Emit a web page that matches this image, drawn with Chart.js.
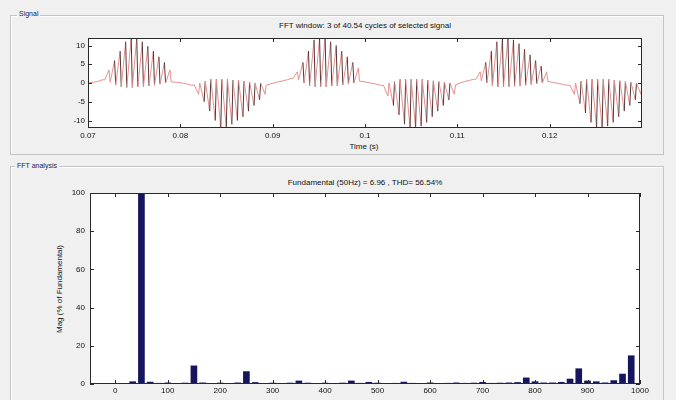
<!DOCTYPE html>
<html>
<head>
<meta charset="utf-8">
<script src="https://cdn.jsdelivr.net/npm/chart.js@4.4.1/dist/chart.umd.min.js"></script>
<style>
  body { margin: 0; background: #f0f0f0; font-family: "Liberation Sans", Arial, sans-serif; }
  #fig { position: relative; width: 676px; height: 400px; overflow: hidden; background: #f0f0f0; }
  .panel { position: absolute; border: 1px solid #c4c4c4; box-shadow: inset 1px 1px 0 #fff; }
  .panel-title { position: absolute; font-size: 7px; line-height: 8px; color: #1a2050; background: #f0f0f0; padding: 0 2px; }
  .txt { position: absolute; font-size: 8px; line-height: 10px; color: #111; white-space: nowrap; transform: translateX(-50%); }
  .ylab { position: absolute; font-size: 8px; line-height: 10px; color: #111; white-space: nowrap; transform: translate(-50%, -50%) rotate(-90deg); }
  canvas { position: absolute; left: 0; }
</style>
</head>
<body>
<div id="fig">
  <div class="panel" style="left:10px; top:15px; width:652px; height:138px;"></div>
  <div class="panel-title" style="left:17px; top:10px;">Signal</div>
  <div class="panel" style="left:10px; top:166px; width:652px; height:240px;"></div>
  <div class="panel-title" style="left:15px; top:162px;">FFT analysis</div>

  <div class="txt" style="left:365px; top:21px;">FFT window: 3 of 40.54 cycles of selected signal</div>
  <div class="txt" style="left:364px; top:142px;">Time (s)</div>
  <div class="txt" style="left:365px; top:178px;">Fundamental (50Hz) = 6.96 , THD= 56.54%</div>
  <div class="ylab" style="left:60px; top:289px;">Mag (% of Fundamental)</div>

  <canvas id="signalChart" width="676" height="160" style="top:0;"></canvas>
  <canvas id="fftChart" width="676" height="240" style="top:160px;"></canvas>
</div>

<script>
// Signal window (s) and amplitude
const signalTime = [
  0.0700, 0.0706, 0.0712, 0.0716,
  0.0718, 0.07228, 0.0724, 0.07288, 0.0730, 0.07348, 0.0736, 0.07408, 0.0742, 0.07468, 0.0748, 0.07528,
  0.0754, 0.07588, 0.0760, 0.07648, 0.0766, 0.07708, 0.0772, 0.07768, 0.0778, 0.07828, 0.0784, 0.07888,
  0.0790, 0.0796, 0.0802, 0.0808, 0.0812,
  0.0815, 0.08198, 0.0821, 0.08258, 0.0827, 0.08318, 0.0833, 0.08378, 0.0839, 0.08438, 0.0845, 0.08498,
  0.0851, 0.08558, 0.0857, 0.08618, 0.0863, 0.08678, 0.0869, 0.08738, 0.0875, 0.08798, 0.0881, 0.08858,
  0.0887, 0.08918, 0.0893, 0.0898, 0.0904, 0.0910, 0.0916, 0.0920,
  0.0922, 0.09268, 0.0928, 0.09328, 0.0934, 0.09388, 0.0940, 0.09448, 0.0946, 0.09508, 0.0952, 0.09568,
  0.0958, 0.09628, 0.0964, 0.09688, 0.0970, 0.09748, 0.0976, 0.09808, 0.0982, 0.09868, 0.0988, 0.09928,
  0.0994, 0.1000, 0.1006, 0.1012, 0.1017,
  0.1020, 0.10248, 0.1026, 0.10308, 0.1032, 0.10368, 0.1038, 0.10428, 0.1044, 0.10488, 0.1050, 0.10548,
  0.1056, 0.10608, 0.1062, 0.10668, 0.1068, 0.10728, 0.1074, 0.10788, 0.1080, 0.10848, 0.1086, 0.10908,
  0.1092, 0.10968, 0.1098, 0.1103, 0.1108, 0.1113, 0.1118,
  0.1120, 0.11248, 0.1126, 0.11308, 0.1132, 0.11368, 0.1138, 0.11428, 0.1144, 0.11488, 0.1150, 0.11548,
  0.1156, 0.11608, 0.1162, 0.11668, 0.1168, 0.11728, 0.1174, 0.11788, 0.1180, 0.11848, 0.1186, 0.11908,
  0.1192, 0.11968, 0.1198, 0.1203, 0.1209, 0.1215, 0.1219,
  0.1222, 0.12268, 0.1228, 0.12328, 0.1234, 0.12388, 0.1240, 0.12448, 0.1246, 0.12508, 0.1252, 0.12568,
  0.1258, 0.12628, 0.1264, 0.12688, 0.1270, 0.12748, 0.1276, 0.12808, 0.1282, 0.12868, 0.1288, 0.12928,
  0.1294, 0.12988, 0.1300
];
const signalValue = [
  0.0, 0.2, 0.5, 0.9,
  0.8, 3.5, 0.2, 6.0, -0.5, 8.5, -1.0, 11.0, -1.2, 12.0, -1.2, 12.0,
  -1.0, 11.0, -1.0, 9.8, -0.8, 8.5, -0.6, 7.0, -0.3, 5.5, 0.0, 3.5,
  0.3, 0.2, 0.0, -0.3, -0.6,
  -0.5, -3.0, 0.0, -5.0, 0.5, -7.5, 1.0, -10.0, 1.0, -12.0, 1.0, -12.0,
  1.0, -11.0, 0.8, -10.0, 0.8, -9.0, 0.5, -7.5, 0.3, -6.0, 0.0, -4.5,
  0.0, -3.0, -0.6, -0.2, 0.2, 0.5, 0.9, 1.2,
  1.2, 3.0, 0.8, 5.5, 0.0, 8.5, -0.8, 11.5, -1.0, 12.0, -1.0, 12.0,
  -1.0, 11.0, -0.8, 10.0, -0.8, 8.5, -0.5, 7.0, -0.3, 5.5, 0.0, 4.0,
  0.5, 0.3, 0.0, -0.3, -0.6,
  -0.6, -3.5, 0.0, -6.0, 0.5, -8.5, 1.0, -11.0, 1.0, -12.0, 1.0, -12.0,
  1.0, -11.5, 1.0, -10.5, 0.8, -9.0, 0.6, -7.5, 0.4, -6.0, 0.2, -4.5,
  0.0, -3.0, -0.5, 0.0, 0.4, 0.7, 1.0,
  1.0, 3.0, 0.6, 5.5, 0.0, 8.5, -0.8, 11.0, -1.0, 12.0, -1.0, 12.0,
  -1.0, 11.5, -0.9, 10.5, -0.8, 9.0, -0.6, 7.5, -0.4, 6.0, -0.2, 4.5,
  0.0, 3.0, 0.4, 0.2, -0.1, -0.4, -0.6,
  -0.6, -3.0, 0.0, -5.5, 0.5, -8.0, 1.0, -10.5, 1.0, -12.0, 1.0, -12.0,
  1.0, -11.5, 1.0, -10.5, 0.8, -9.0, 0.6, -7.5, 0.4, -6.0, 0.2, -4.5,
  0.0, -3.0, 0.0
];
const timeTicks = [0.07, 0.08, 0.09, 0.1, 0.11, 0.12];
const signalTicks = [-10, -5, 0, 5, 10];

// FFT bins (Hz) and magnitude (% of fundamental)
const fftFreq = [
  0, 16.7, 33.3, 50, 66.7, 83.3, 100, 116.7, 133.3, 150, 166.7, 183.3, 200, 216.7, 233.3, 250,
  266.7, 283.3, 300, 316.7, 333.3, 350, 366.7, 383.3, 400, 416.7, 433.3, 450, 466.7, 483.3, 500,
  516.7, 533.3, 550, 566.7, 583.3, 600, 616.7, 633.3, 650, 666.7, 683.3, 700, 716.7, 733.3, 750,
  766.7, 783.3, 800, 816.7, 833.3, 850, 866.7, 883.3, 900, 916.7, 933.3, 950, 966.7, 983.3
];
const fftMag = [
  0.3, 0.2, 1.2, 100, 1.0, 0.4, 0.6, 0.3, 0.5, 9.5, 0.6, 0.3, 0.5, 0.3, 0.6, 6.5,
  0.8, 0.3, 0.5, 0.3, 0.5, 1.6, 0.5, 0.3, 0.5, 0.3, 0.5, 1.6, 0.4, 0.9, 0.5,
  0.3, 0.4, 1.0, 0.4, 0.3, 0.6, 0.3, 0.4, 0.6, 0.4, 0.5, 0.9, 0.4, 0.5, 0.6,
  0.8, 3.2, 1.2, 0.6, 0.6, 0.9, 2.6, 8.0, 1.6, 1.2, 0.6, 1.8, 5.2, 14.8
];
const freqTicks = [0, 100, 200, 300, 400, 500, 600, 700, 800, 900, 1000];
const magTicks = [0, 20, 40, 60, 80, 100];

const tickFont = { family: '"Liberation Sans", Arial, sans-serif', size: 8 };

// white axes background, box and inward tick marks like MATLAB
const matlabAxes = {
  id: 'matlabAxes',
  beforeDatasetsDraw(chart) {
    const { ctx, chartArea: a } = chart;
    ctx.save();
    ctx.fillStyle = '#ffffff';
    ctx.fillRect(a.left, a.top, a.width, a.height);
    ctx.restore();
  },
  afterDraw(chart, args, opts) {
    const { ctx, chartArea: a, scales } = chart;
    const len = opts.tickLen || 4;
    ctx.save();
    ctx.strokeStyle = '#2a2a2a';
    ctx.lineWidth = 1;
    ctx.strokeRect(a.left + 0.5, a.top + 0.5, a.width - 1, a.height - 1);
    ctx.beginPath();
    scales.x.ticks.forEach(t => {
      const px = Math.round(scales.x.getPixelForValue(t.value)) + 0.5;
      ctx.moveTo(px, a.bottom); ctx.lineTo(px, a.bottom - len);
      ctx.moveTo(px, a.top); ctx.lineTo(px, a.top + len);
    });
    scales.y.ticks.forEach(t => {
      const py = Math.round(scales.y.getPixelForValue(t.value)) + 0.5;
      ctx.moveTo(a.left, py); ctx.lineTo(a.left + len, py);
      ctx.moveTo(a.right, py); ctx.lineTo(a.right - len, py);
    });
    ctx.stroke();
    ctx.restore();
  }
};

function fixedTicks(values) {
  return scale => { scale.ticks = values.map(v => ({ value: v })); };
}

// Upper plot: signal
new Chart(document.getElementById('signalChart'), {
  type: 'line',
  data: {
    datasets: [{
      data: signalTime.map((t, i) => ({ x: t, y: signalValue[i] })),
      borderWidth: 1,
      borderColor: '#e89090',
      pointRadius: 0,
      tension: 0,
      segment: {
        // steep edges render dark, slow ramps pink
        borderColor: c => {
          const dx = Math.abs(c.p1.x - c.p0.x);
          const dy = Math.abs(c.p1.y - c.p0.y);
          return dy > dx * 14 ? '#553535' : '#e89090';
        }
      }
    }]
  },
  options: {
    responsive: false,
    animation: false,
    devicePixelRatio: 1,
    layout: { padding: { left: 58, right: 34, top: 38, bottom: 18 } },
    plugins: { legend: { display: false }, tooltip: { enabled: false }, matlabAxes: { tickLen: 4 } },
    scales: {
      x: {
        type: 'linear', min: 0.07, max: 0.13,
        afterBuildTicks: fixedTicks(timeTicks),
        afterFit: s => { s.height = 14; },
        grid: { display: false, drawTicks: false },
        border: { display: false },
        ticks: { font: tickFont, color: '#111', padding: 3, maxRotation: 0, callback: v => String(v) }
      },
      y: {
        type: 'linear', min: -12, max: 12,
        afterBuildTicks: fixedTicks(signalTicks),
        afterFit: s => { s.width = 30; },
        grid: { display: false, drawTicks: false },
        border: { display: false },
        ticks: { font: tickFont, color: '#111', padding: 3 }
      }
    }
  },
  plugins: [matlabAxes]
});

// Lower plot: FFT analysis
new Chart(document.getElementById('fftChart'), {
  type: 'bar',
  data: {
    datasets: [{
      data: fftFreq.map((f, i) => ({ x: f, y: fftMag[i] })),
      backgroundColor: '#16165e',
      borderWidth: 0,
      barThickness: 6
    }]
  },
  options: {
    responsive: false,
    animation: false,
    devicePixelRatio: 1,
    layout: { padding: { left: 60, right: 36, top: 33, bottom: 2 } },
    plugins: { legend: { display: false }, tooltip: { enabled: false }, matlabAxes: { tickLen: 4 } },
    scales: {
      x: {
        type: 'linear', min: -48, max: 1000, offset: false,
        afterBuildTicks: fixedTicks(freqTicks),
        afterFit: s => { s.height = 14; },
        grid: { display: false, drawTicks: false, offset: false },
        border: { display: false },
        ticks: { font: tickFont, color: '#111', padding: 2, maxRotation: 0, callback: v => String(v) }
      },
      y: {
        type: 'linear', min: 0, max: 100,
        afterBuildTicks: fixedTicks(magTicks),
        afterFit: s => { s.width = 30; },
        grid: { display: false, drawTicks: false },
        border: { display: false },
        ticks: { font: tickFont, color: '#111', padding: 5 }
      }
    }
  },
  plugins: [matlabAxes]
});
</script>
</body>
</html>
